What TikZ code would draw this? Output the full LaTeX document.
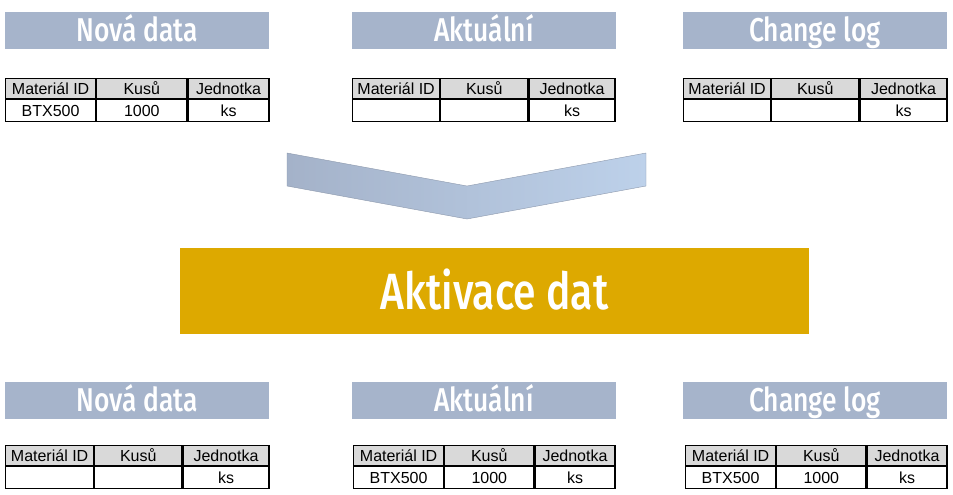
\documentclass[tikz,border=0pt]{standalone}
\usepackage{fontspec}
\setmainfont{Liberation Sans}
\IfFontExistsTF{Fira Sans Medium}
    {\newfontfamily\headfont[FakeStretch=0.8]{Fira Sans Medium}}
    {\newfontfamily\headfont[FakeStretch=0.8,FakeBold=0.6]{Fira Sans}}
\usetikzlibrary{positioning}

\definecolor{headblue}{HTML}{A6B4CB}
\definecolor{chevA}{HTML}{A4B2C9}
\definecolor{chevB}{HTML}{BDD1EA}
\definecolor{gold}{HTML}{DDA900}
\definecolor{cellgray}{HTML}{D9D9D9}

\tikzset{
    head/.style={fill=headblue, minimum width=264pt, minimum height=37pt, inner sep=0pt,
        text height=23pt, text depth=0pt,
        text=white, font=\headfont\fontsize{33}{33}\selectfont},
    hcell/.style={draw, line width=1.2pt, fill=cellgray, minimum height=20pt, inner sep=0pt,
        font=\fontsize{16}{17}\selectfont},
    dcell/.style={hcell, fill=white, minimum height=22pt},
}

% name, x, y (top left), three column widths, three values
\newcommand{\tabulka}[9]{%
    \node[hcell, minimum width=#4pt, anchor=north west] (#1-h1) at (#2,#3) {Materiál ID};
    \node[hcell, minimum width=#5pt, anchor=west] (#1-h2) at (#1-h1.east) {Kusů};
    \node[hcell, minimum width=#6pt, anchor=west] (#1-h3) at (#1-h2.east) {Jednotka};
    \node[dcell, minimum width=#4pt, below=0pt of #1-h1] (#1-d1) {#7};
    \node[dcell, minimum width=#5pt, below=0pt of #1-h2] (#1-d2) {#8};
    \node[dcell, minimum width=#6pt, below=0pt of #1-h3] (#1-d3) {#9};
}

\begin{document}
\begin{tikzpicture}[x=1pt,y=-1pt]
    \useasboundingbox (0,0) rectangle (953,495);

    % before activation
    \node[head] (novaA) at (137,30.5) {Nová data};
    \node[head] (aktA) at (484,30.5) {Aktuální};
    \node[head] (logA) at (815,30.5) {Change log};

    \tabulka{tnovaA}{5}{78}{90}{90}{81}{BTX500}{1000}{ks}
    \tabulka{taktA}{352}{78}{87}{87}{86}{}{}{ks}
    \tabulka{tlogA}{683}{78}{87}{87}{87}{}{}{ks}

    % chevron
    \shade[left color=chevA, right color=chevB, draw=chevA!85!black, line width=0.4pt]
        (287,153) -- (467,186) -- (646,153) -- (646,186) -- (467,219) -- (287,186) -- cycle;

    \node[fill=gold, minimum width=629pt, minimum height=86pt, inner sep=0pt, text=white,
        text height=37pt, text depth=0pt,
        font=\headfont\fontsize{51}{51}\selectfont] (aktivace) at (494.5,291) {Aktivace dat};

    % after activation
    \node[head] (novaB) at (137,400) {Nová data};
    \node[head] (aktB) at (484,400) {Aktuální};
    \node[head] (logB) at (815,400) {Change log};

    \tabulka{tnovaB}{5}{445}{88}{87}{86}{}{}{ks}
    \tabulka{taktB}{353}{445}{90}{89}{80}{BTX500}{1000}{ks}
    \tabulka{tlogB}{685}{445}{90}{89}{80}{BTX500}{1000}{ks}
\end{tikzpicture}
\end{document}
